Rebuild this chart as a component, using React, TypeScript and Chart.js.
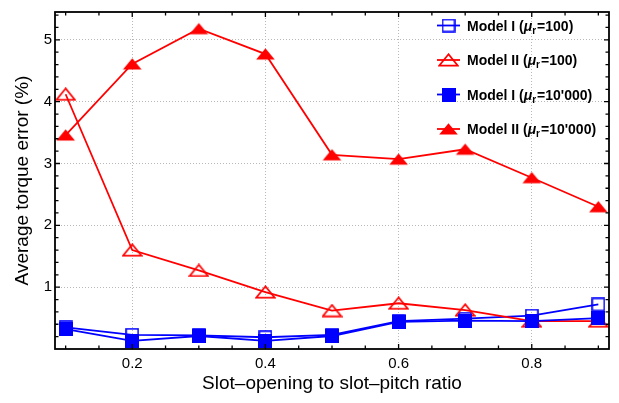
import { useEffect, useRef } from "react";
import { Chart, registerables } from "chart.js";

Chart.register(...registerables);

// ---------- data ----------
const slotRatio = [0.1, 0.2, 0.3, 0.4, 0.5, 0.6, 0.7, 0.8, 0.9];
const modelI_mu100 = [0.35, 0.23, 0.22, 0.19, 0.23, 0.45, 0.49, 0.54, 0.72];
const modelII_mu100 = [4.12, 1.6, 1.27, 0.92, 0.62, 0.74, 0.63, 0.45, 0.45];
const modelI_mu10000 = [0.32, 0.13, 0.21, 0.13, 0.21, 0.44, 0.46, 0.45, 0.5];
const modelII_mu10000 = [3.46, 4.61, 5.18, 4.77, 3.14, 3.07, 3.23, 2.77, 2.3];

const seriesModels = ["Model I", "Model II", "Model I", "Model II"];
const seriesMu = ["100", "100", "10'000", "10'000"];

const xTickValues = [0.2, 0.4, 0.6, 0.8];
const yTickValues = [1, 2, 3, 4, 5];
const xMinorStep = 0.05;
const yMinorStep = 0.2;

const X_MIN = 0.084;
const X_MAX = 0.916;
const Y_MIN = 0;
const Y_MAX = 5.45;

const FONT = '"Liberation Sans", Arial, Helvetica, sans-serif';
const BLUE = "#0000ff";
const RED = "#ff0000";

type MarkerKind = "openSquare" | "filledSquare" | "openTriangle" | "filledTriangle";

function makeMarker(kind: MarkerKind): HTMLCanvasElement {
  const c = document.createElement("canvas");
  const ctx = c.getContext("2d")!;
  if (kind === "openSquare" || kind === "filledSquare") {
    c.width = 14;
    c.height = 14;
    if (kind === "filledSquare") {
      ctx.fillStyle = BLUE;
      ctx.fillRect(0, 0, 14, 14);
    } else {
      ctx.strokeStyle = BLUE;
      ctx.lineWidth = 1.6;
      ctx.strokeRect(1, 1, 12, 12);
    }
  } else {
    c.width = 21;
    c.height = 14;
    ctx.beginPath();
    ctx.moveTo(10.5, 1.2);
    ctx.lineTo(1.2, 12.6);
    ctx.lineTo(19.8, 12.6);
    ctx.closePath();
    if (kind === "filledTriangle") {
      ctx.fillStyle = RED;
      ctx.fill();
    } else {
      ctx.strokeStyle = RED;
      ctx.lineWidth = 1.7;
      ctx.lineJoin = "miter";
      ctx.stroke();
    }
  }
  return c;
}

const framePlugin = {
  id: "frameTicks",
  afterDatasetsDraw(chart: any) {
    const { ctx, chartArea: a, scales } = chart;
    const xs = scales.x;
    const ys = scales.y;
    ctx.save();
    ctx.strokeStyle = "#000";
    ctx.lineWidth = 1.3;
    // x ticks
    for (let v = 0.1; v <= 0.9001; v += xMinorStep) {
      const val = Math.round(v * 100) / 100;
      const major = xTickValues.some((t) => Math.abs(t - val) < 1e-6);
      const len = major ? 5 : 3.5;
      const px = xs.getPixelForValue(val);
      ctx.beginPath();
      ctx.moveTo(px, a.bottom);
      ctx.lineTo(px, a.bottom - len);
      ctx.moveTo(px, a.top);
      ctx.lineTo(px, a.top + len);
      ctx.stroke();
    }
    // y ticks
    for (let v = yMinorStep; v <= Y_MAX; v += yMinorStep) {
      const val = Math.round(v * 10) / 10;
      const major = yTickValues.some((t) => Math.abs(t - val) < 1e-6);
      const len = major ? 5 : 3.5;
      const py = ys.getPixelForValue(val);
      ctx.beginPath();
      ctx.moveTo(a.left, py);
      ctx.lineTo(a.left + len, py);
      ctx.moveTo(a.right, py);
      ctx.lineTo(a.right - len, py);
      ctx.stroke();
    }
    ctx.lineWidth = 1.8;
    ctx.strokeRect(a.left, a.top, a.right - a.left, a.bottom - a.top);
    ctx.restore();
  },
};

const legendPlugin = {
  id: "mathLegend",
  afterDraw(chart: any) {
    const { ctx } = chart;
    const rows = [25.5, 60, 94.5, 129];
    chart.data.datasets.forEach((ds: any, i: number) => {
      const y = rows[i];
      ctx.save();
      ctx.strokeStyle = ds.borderColor;
      ctx.lineWidth = ds.borderWidth;
      ctx.beginPath();
      ctx.moveTo(437, y);
      ctx.lineTo(460, y);
      ctx.stroke();
      const img = ds.pointStyle as HTMLCanvasElement;
      ctx.drawImage(img, 448.5 - img.width / 2, y - img.height / 2);
      ctx.fillStyle = "#000";
      ctx.textBaseline = "alphabetic";
      ctx.textAlign = "left";
      const base = y + 5;
      let x = 467;
      ctx.font = `bold 14px ${FONT}`;
      const p1 = seriesModels[i] + " (";
      ctx.fillText(p1, x, base);
      x += ctx.measureText(p1).width;
      ctx.font = `italic bold 14px ${FONT}`;
      ctx.fillText("\u03bc", x, base);
      x += ctx.measureText("\u03bc").width;
      ctx.font = `bold 10px ${FONT}`;
      ctx.fillText("r", x, base + 3);
      x += ctx.measureText("r").width + 1;
      ctx.font = `bold 14px ${FONT}`;
      ctx.fillText("=" + seriesMu[i] + ")", x, base);
      ctx.restore();
    });
  },
};

export default function App() {
  const ref = useRef<HTMLCanvasElement | null>(null);

  useEffect(() => {
    if (!ref.current) return;
    const markers = {
      openSquare: makeMarker("openSquare"),
      filledSquare: makeMarker("filledSquare"),
      openTriangle: makeMarker("openTriangle"),
      filledTriangle: makeMarker("filledTriangle"),
    };
    const mk = (vals: number[]) => vals.map((v, i) => ({ x: slotRatio[i], y: v }));
    const chart = new Chart(ref.current, {
      type: "line",
      data: {
        datasets: [
          {
            label: "Model I (mu_r=100)",
            data: mk(modelI_mu100),
            borderColor: BLUE,
            backgroundColor: BLUE,
            borderWidth: 1.8,
            pointStyle: markers.openSquare as any,
            order: 3,
          },
          {
            label: "Model II (mu_r=100)",
            data: mk(modelII_mu100),
            borderColor: RED,
            backgroundColor: RED,
            borderWidth: 1.8,
            pointStyle: markers.openTriangle as any,
            order: 2,
          },
          {
            label: "Model I (mu_r=10'000)",
            data: mk(modelI_mu10000),
            borderColor: BLUE,
            backgroundColor: BLUE,
            borderWidth: 1.8,
            pointStyle: markers.filledSquare as any,
            order: 1,
          },
          {
            label: "Model II (mu_r=10'000)",
            data: mk(modelII_mu10000),
            borderColor: RED,
            backgroundColor: RED,
            borderWidth: 1.8,
            pointStyle: markers.filledTriangle as any,
            order: 0,
          },
        ],
      },
      options: {
        responsive: false,
        animation: false,
        events: [],
        layout: { padding: { top: 6, right: 10, bottom: 0, left: 0 } },
        plugins: {
          legend: { display: false },
          tooltip: { enabled: false },
        },
        elements: {
          line: { tension: 0 },
          point: { radius: 7 },
        },
        scales: {
          x: {
            type: "linear",
            min: X_MIN,
            max: X_MAX,
            afterBuildTicks: (s: any) => {
              s.ticks = xTickValues.map((v) => ({ value: v }));
            },
            afterFit: (s: any) => {
              s.height = 54;
            },
            ticks: {
              font: { family: FONT, size: 15 },
              color: "#000",
              padding: 6,
              callback: (v: any) => String(v),
            },
            grid: { color: "#b8b8b8", lineWidth: 1, drawTicks: false },
            border: { display: false, dash: [1, 2] },
            title: {
              display: true,
              text: "Slot\u2013opening to slot\u2013pitch ratio",
              font: { family: FONT, size: 19, lineHeight: 1 },
              color: "#000",
              padding: { top: 0, bottom: 10 },
            },
          },
          y: {
            type: "linear",
            min: Y_MIN,
            max: Y_MAX,
            afterBuildTicks: (s: any) => {
              s.ticks = yTickValues.map((v) => ({ value: v }));
            },
            afterFit: (s: any) => {
              s.width = 55;
            },
            ticks: {
              font: { family: FONT, size: 15 },
              color: "#000",
              padding: 3,
              callback: (v: any) => String(v),
            },
            grid: { color: "#b8b8b8", lineWidth: 1, drawTicks: false },
            border: { display: false, dash: [1, 2] },
            title: {
              display: true,
              text: "Average torque error (%)",
              font: { family: FONT, size: 19, lineHeight: 1 },
              color: "#000",
              padding: { top: 13, bottom: 0 },
            },
          },
        },
      },
      plugins: [framePlugin, legendPlugin],
    });
    return () => chart.destroy();
  }, []);

  return (
    <div style={{ position: "absolute", left: 0, top: 0, width: 619, height: 403, background: "#fff" }}>
      <canvas ref={ref} width={619} height={403} style={{ display: "block" }} />
    </div>
  );
}
